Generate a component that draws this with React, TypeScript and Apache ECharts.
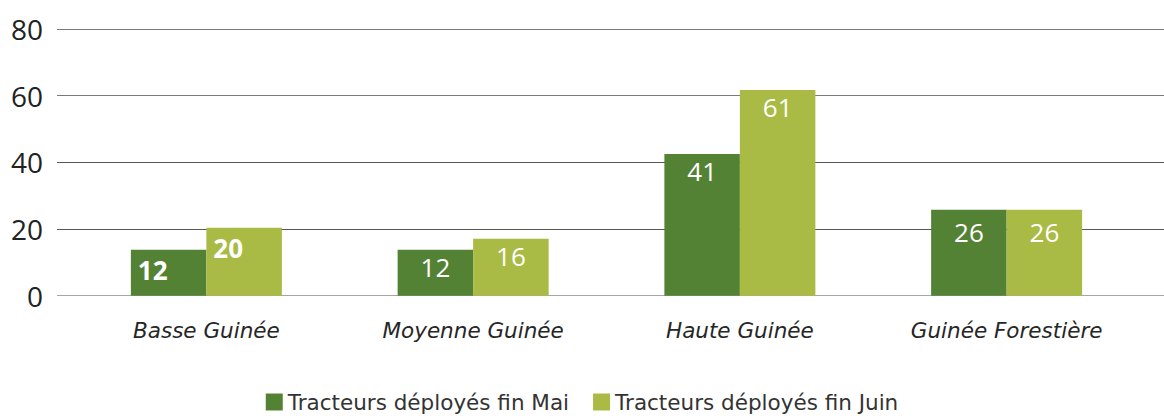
import React, { useEffect, useRef } from "react";
import * as echarts from "echarts";

const categories = ["Basse Guinée", "Moyenne Guinée", "Haute Guinée", "Guinée Forestière"];
const seriesNames = ["Tracteurs déployés fin Mai", "Tracteurs déployés fin Juin"];
// bar heights as drawn
const maiValues = [13.8, 13.8, 42.5, 25.8];
const juinValues = [20.4, 17.1, 61.7, 25.8];
// printed labels
const maiLabels = ["12", "12", "41", "26"];
const juinLabels = ["20", "16", "61", "26"];
const yTicks = [0, 20, 40, 60, 80];

const DARK = "#548235";
const LIGHT = "#A9BB44";
const FONT = "Open Sans";
const FONT2 = "DejaVu Sans";

function buildData(values: number[], labels: string[]) {
  return values.map((v, i) => {
    const item: any = { value: v, labelText: labels[i] };
    if (i === 0) {
      item.label = { fontWeight: "bold", offset: [-16, 3] };
    } else if (i === 3) {
      item.label = { offset: [0, 5] };
    }
    return item;
  });
}

export default function App() {
  const ref = useRef<HTMLDivElement>(null);
  useEffect(() => {
    if (!ref.current) return;
    const chart = echarts.init(ref.current, null, { renderer: "svg" });
    const labelStyle = (labels: string[]) => ({
      show: true,
      position: "insideTop",
      distance: 4,
      color: "#ffffff",
      fontFamily: FONT,
      fontSize: 26,
      formatter: (p: any) => labels[p.dataIndex],
    });
    chart.setOption({
      animation: false,
      grid: [
        { left: 57, right: 0, top: 29, bottom: 120.3, containLabel: false },
        { left: 73, right: 24, top: 29, bottom: 120.3, containLabel: false },
      ],
      xAxis: [
        { gridIndex: 0, type: "value", show: false, min: 0, max: 1 },
        {
          gridIndex: 1,
          type: "category",
          data: categories,
          axisLine: { show: false },
          axisTick: { show: false },
          axisLabel: {
            margin: 24,
            fontFamily: FONT2,
            fontStyle: "italic",
            fontSize: 21.5,
            color: "#262626",
          },
        },
      ],
      yAxis: [
        {
          gridIndex: 0,
          type: "value",
          min: yTicks[0],
          max: yTicks[yTicks.length - 1],
          interval: 20,
          axisLine: { show: false },
          axisTick: { show: false },
          axisLabel: { margin: 14, fontFamily: FONT, fontSize: 28, color: "#222222" },
          splitLine: {
            show: true,
            lineStyle: {
              color: ["#A6A6A6", "#595959", "#595959", "#7a7a7a", "#7a7a7a"],
              width: 1.2,
            },
          },
        },
        {
          gridIndex: 1,
          type: "value",
          min: yTicks[0],
          max: yTicks[yTicks.length - 1],
          interval: 20,
          show: false,
          splitLine: { show: false },
        },
      ],
      legend: {
        top: 391,
        left: "center",
        padding: 0,
        itemWidth: 17,
        itemHeight: 17,
        itemGap: 24,
        icon: "rect",
        textStyle: { fontFamily: FONT2, fontSize: 21.5, lineHeight: 22, color: "#333333" },
        data: seriesNames,
      },
      series: [
        {
          name: seriesNames[0],
          type: "bar",
          xAxisIndex: 1,
          yAxisIndex: 1,
          barWidth: 75.5,
          barGap: "0%",
          itemStyle: { color: DARK },
          label: labelStyle(maiLabels),
          data: buildData(maiValues, maiLabels),
        },
        {
          name: seriesNames[1],
          type: "bar",
          xAxisIndex: 1,
          yAxisIndex: 1,
          barWidth: 75.5,
          barGap: "0%",
          itemStyle: { color: LIGHT },
          label: labelStyle(juinLabels),
          data: buildData(juinValues, juinLabels),
        },
      ],
    });
    return () => chart.dispose();
  }, []);
  return <div ref={ref} style={{ width: 1164, height: 416, position: "absolute", left: 0, top: 0 }} />;
}
